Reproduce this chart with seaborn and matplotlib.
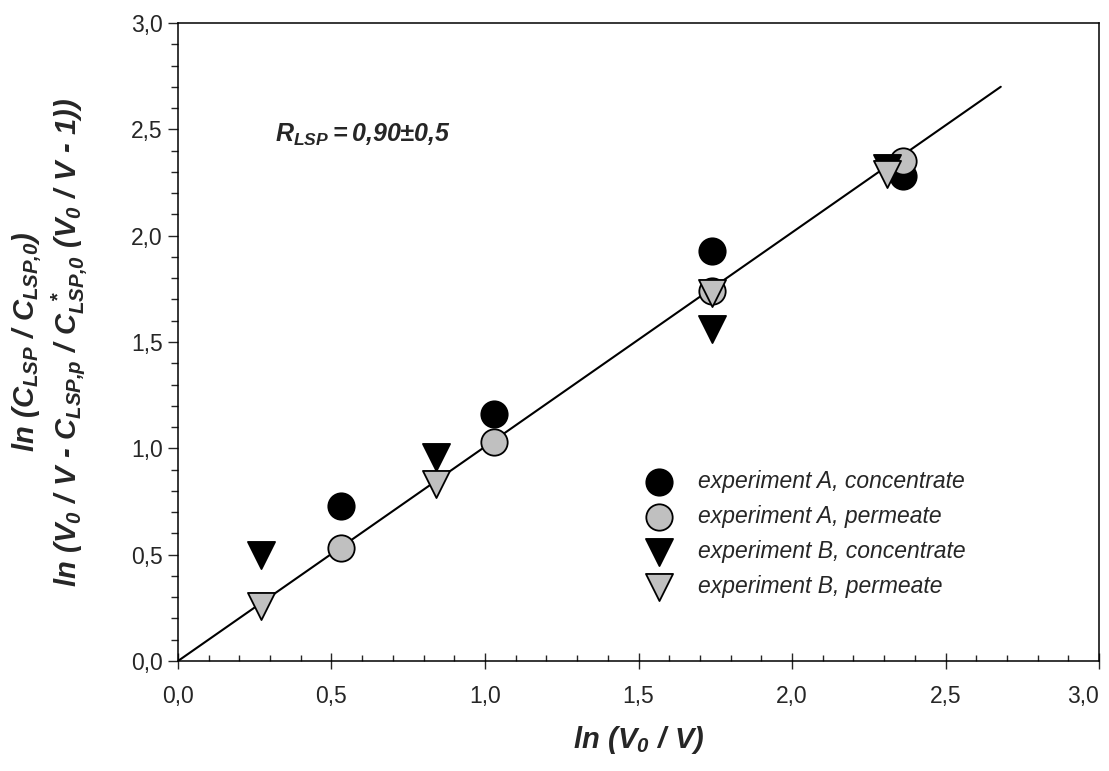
import pandas as pd
import matplotlib.pyplot as plt
import seaborn as sns
from matplotlib.ticker import MultipleLocator, FuncFormatter

# values
a_conc_x = [0.53, 1.03, 1.74, 2.36]
a_conc_y = [0.73, 1.16, 1.93, 2.28]
a_perm_x = [0.53, 1.03, 1.74, 2.36]
a_perm_y = [0.53, 1.03, 1.74, 2.35]
b_conc_x = [0.27, 0.84, 1.74, 2.31]
b_conc_y = [0.50, 0.96, 1.56, 2.32]
b_perm_x = [0.27, 0.84, 1.74, 2.31]
b_perm_y = [0.26, 0.83, 1.73, 2.29]
fit_x = [0.0, 2.68]
fit_y = [0.0, 2.70]

labels = ['experiment A, concentrate', 'experiment A, permeate',
          'experiment B, concentrate', 'experiment B, permeate']

sns.set_theme(style='white')
plt.rcParams['font.family'] = ['Liberation Sans', 'DejaVu Sans']
plt.rcParams['mathtext.fontset'] = 'custom'
plt.rcParams['mathtext.rm'] = 'Liberation Sans:italic:bold'
plt.rcParams['mathtext.it'] = 'Liberation Sans:italic:bold'
plt.rcParams['mathtext.bf'] = 'Liberation Sans:italic:bold'

fig = plt.figure(figsize=(11.09, 7.71), dpi=100)
ax = fig.add_axes([0.1605, 0.1427, 0.8305, 0.8275])

sns.lineplot(x=fit_x, y=fit_y, ax=ax, color='black', linewidth=1.5, zorder=1)

series = [
    (a_conc_x, a_conc_y, 'o', 'black', 'black', 360),
    (a_perm_x, a_perm_y, 'o', '#c0c0c0', 'black', 360),
    (b_conc_x, b_conc_y, 'v', 'black', 'black', 380),
    (b_perm_x, b_perm_y, 'v', '#c0c0c0', 'black', 380),
]
for (xs, ys, mk, fc, ec, s), lab in zip(series, labels):
    df = pd.DataFrame({'x': xs, 'y': ys})
    sns.scatterplot(data=df, x='x', y='y', ax=ax, marker=mk, s=s,
                    color=fc, edgecolor=ec, linewidth=1.3, label=lab, zorder=3)

ax.set_xlim(0, 3)
ax.set_ylim(0, 3)
ax.xaxis.set_major_locator(MultipleLocator(0.5))
ax.xaxis.set_minor_locator(MultipleLocator(0.1))
ax.yaxis.set_major_locator(MultipleLocator(0.5))
ax.yaxis.set_minor_locator(MultipleLocator(0.1))
fmt = FuncFormatter(lambda v, p: f"{v:.1f}".replace('.', ','))
ax.xaxis.set_major_formatter(fmt)
ax.yaxis.set_major_formatter(fmt)

ax.tick_params(axis='x', which='major', direction='inout', length=12, width=1,
               labelsize=16.5, pad=11, bottom=True, top=False)
ax.tick_params(axis='x', which='minor', direction='in', length=4, width=1,
               bottom=True, top=False)
ax.tick_params(axis='y', which='major', direction='out', length=7, width=1,
               labelsize=16.5, pad=4, left=True, right=False)
ax.tick_params(axis='y', which='minor', direction='out', length=5, width=1,
               left=True, right=False)
for sp in ax.spines.values():
    sp.set_color('black')
    sp.set_linewidth(1.1)

hy = '\u2010'
ax.set_xlabel(r'$ln\ (V_0\ /\ V)$', fontsize=21, labelpad=12)
ax.set_ylabel(r'$ln\ (C_{LSP}\ /\ C_{LSP{,}0})$' + '\n' +
              r'$ln\ (V_0\ /\ V\ ' + hy + r'\ C_{LSP{,}p}\ /\ C_{LSP{,}0}^{\ *}\ (V_0\ /\ V\ '
              + hy + r'\ 1))$',
              fontsize=21, labelpad=30, linespacing=1.2)

ax.text(0.315, 2.44, r'$R_{LSP}{=}0{,}90{\pm}0{,}5$', fontsize=18)

leg = ax.legend(loc='upper left', bbox_to_anchor=(0.487, 0.314), frameon=False,
                fontsize=16.5, handletextpad=0.7, labelspacing=0.52,
                borderaxespad=0)
for t in leg.get_texts():
    t.set_fontstyle('italic')

fig.canvas.draw()
for tk in ax.xaxis.get_major_ticks():
    if tk.label1.get_text() == '3,0':
        tk.label1.set_horizontalalignment('right')

fig.savefig('out.png', dpi=100)
